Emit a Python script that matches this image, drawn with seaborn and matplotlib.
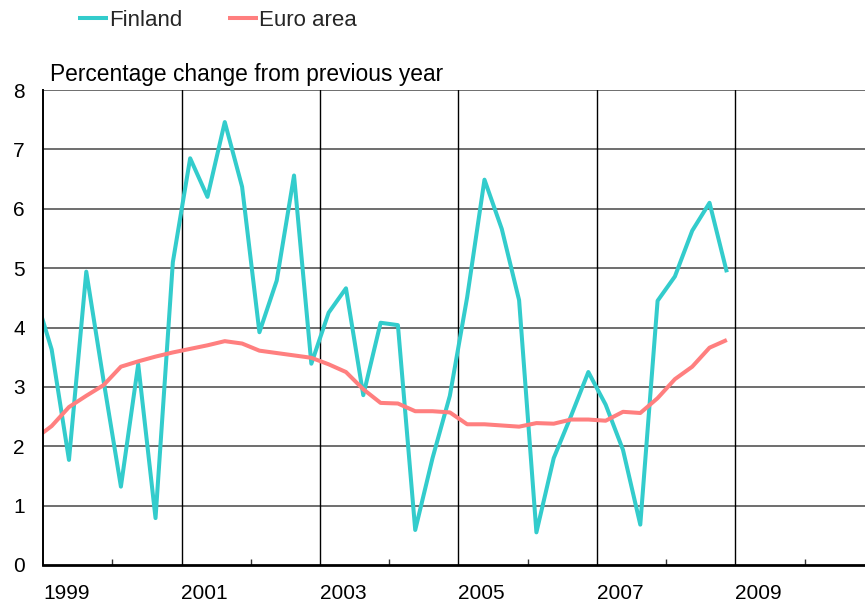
import matplotlib
matplotlib.use("Agg")
import matplotlib.pyplot as plt
import numpy as np
import pandas as pd
import seaborn as sns

# Quarterly series, 1998 Q4 to 2008 Q4
start_year, start_quarter = 1998, 4
finland = [4.59,
           3.63, 1.77, 4.94, 3.10, 1.32, 3.38, 0.79, 5.10, 6.85, 6.20,
           7.46, 6.37, 3.92, 4.79, 6.56, 3.39, 4.25, 4.66, 2.86, 4.08,
           4.04, 0.59, 1.80, 2.85, 4.51, 6.49, 5.66, 4.46, 0.55, 1.80,
           2.51, 3.25, 2.70, 1.94, 0.68, 4.45, 4.86, 5.63, 6.10, 4.93]
euro_area = [2.12,
             2.34, 2.66, 2.85, 3.03, 3.34, 3.43, 3.51, 3.58, 3.64, 3.70,
             3.77, 3.73, 3.61, 3.57, 3.53, 3.49, 3.38, 3.25, 2.96, 2.73,
             2.72, 2.59, 2.59, 2.57, 2.37, 2.37, 2.35, 2.33, 2.39, 2.38,
             2.45, 2.45, 2.43, 2.58, 2.56, 2.81, 3.13, 3.34, 3.66, 3.79]
series_names = ["Finland", "Euro area"]
series_colors = ["#33CCCC", "#FF7F7F"]
year_labels = ["1999", "2001", "2003", "2005", "2007", "2009"]
y_ticks = [0, 1, 2, 3, 4, 5, 6, 7, 8]
y_title = "Percentage change from previous year"

# mid-quarter positions on a decimal-year axis
n = len(finland)
q_index = np.arange(n) + (start_quarter - 1)
x_pos = start_year + (q_index + 0.5) / 4.0

df = pd.DataFrame({
    "x": np.concatenate([x_pos, x_pos]),
    "value": finland + euro_area,
    "series": [series_names[0]] * n + [series_names[1]] * n,
})

sns.set_theme(style="white")
plt.rcParams["font.family"] = ["Liberation Sans", "DejaVu Sans"]
FS = 15

fig = plt.figure(figsize=(8.65, 6.09), dpi=100)
ax = fig.add_axes([43 / 865, 44 / 609, 822 / 865, 475 / 609])

sns.lineplot(data=df, x="x", y="value", hue="series", hue_order=series_names,
             palette=dict(zip(series_names, series_colors)), linewidth=2.9,
             ax=ax, legend=True)
for ln in ax.lines:
    ln.set_solid_joinstyle("round")
    ln.set_solid_capstyle("butt")

ax.set_xlim(1999, 1999 + 822 / 69.25)
ax.set_ylim(0, 8)

# horizontal gridlines
ax.set_yticks(y_ticks)
ax.set_yticklabels([str(v) for v in y_ticks], fontsize=FS)
for v in y_ticks[1:]:
    ax.axhline(v, color="#555555", lw=1.2, zorder=0.5)

# vertical gridlines at odd years, minor ticks between
major_x = [int(s) for s in year_labels]
ax.set_xticks(major_x)
ax.set_xticklabels(year_labels, fontsize=FS, ha="left")
for xv in major_x[1:]:
    ax.axvline(xv, color="black", lw=1.0, zorder=0.5)
ax.set_xticks([y + 1 for y in major_x], minor=True)

ax.tick_params(axis="x", which="major", length=0, pad=14, colors="black")
ax.tick_params(axis="x", which="minor", direction="in", length=4, width=1,
               color="#333333", bottom=True)
ax.tick_params(axis="y", length=0, pad=13, colors="black")

ax.set_xlabel("")
ax.set_ylabel("")
ax.spines["left"].set_color("black")
ax.spines["left"].set_linewidth(1.4)
ax.spines["bottom"].set_color("black")
ax.spines["bottom"].set_linewidth(2.0)
ax.spines["top"].set_visible(False)
ax.spines["right"].set_visible(False)
ax.grid(False)

handles, labels = ax.get_legend_handles_labels()
ax.get_legend().remove()
fig.legend(handles, labels, loc="center left",
           bbox_to_anchor=(78 / 865, 1 - 20 / 609), ncol=2, frameon=False,
           fontsize=16, handlelength=1.35, handletextpad=0.06,
           columnspacing=2.05, borderpad=0, borderaxespad=0)

fig.text(50 / 865, 1 - 81 / 609, y_title, ha="left", va="baseline",
         fontsize=16.4, color="black")

fig.savefig("out.png", dpi=100)
